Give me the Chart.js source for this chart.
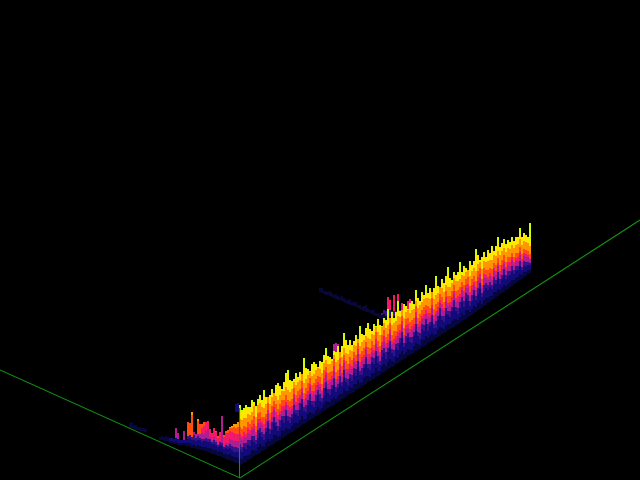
<!DOCTYPE html>
<html lang="en">
<head>
  <meta charset="UTF-8" />
  <title>Surface ridge</title>
  <script src="https://cdn.jsdelivr.net/npm/chart.js"></script>
  <style>
    html, body { margin: 0; padding: 0; background: #000; }
    canvas { display: block; }
  </style>
</head>
<body>
  <canvas id="chart" width="640" height="480"></canvas>
  <script>
    // long ridge: floor of each column and the top of every colour band above that floor
    const ridgeColumns = [
      240,242,244,246,248,
      250,252,254,256,258,260,262,264,266,268,
      270,272,274,276,278,280,282,284,286,288,
      290,292,294,296,298,300,302,304,306,308,
      310,312,314,316,318,320,322,324,326,328,
      330,332,334,336,338,340,342,344,346,348,
      350,352,354,356,358,360,362,364,366,368,
      370,372,374,376,378,380,382,384,386,388,
      390,392,394,396,398,400,402,404,406,408,
      410,412,414,416,418,420,422,424,426,428,
      430,432,434,436,438,440,442,444,446,448,
      450,452,454,456,458,460,462,464,466,468,
      470,472,474,476,478,480,482,484,486,488,
      490,492,494,496,498,500,502,504,506,508,
      510,512,514,516,518,520,522,524,526,528,530];
    const ridgeFloor = [
      15,16,17,18,20,
      21,22,24,25,26,27,29,30,31,33,
      34,35,36,38,39,40,42,43,44,46,
      47,48,49,51,52,53,55,56,57,59,
      60,61,62,64,65,66,68,69,70,72,
      73,74,75,77,78,79,81,82,83,85,
      86,87,88,90,91,92,94,95,96,98,
      99,100,101,103,104,105,107,108,109,111,
      112,113,114,116,117,118,120,121,122,124,
      125,126,127,129,130,131,133,134,135,137,
      138,139,140,142,143,144,146,147,148,150,
      151,152,153,155,156,157,159,160,161,163,
      164,165,167,168,170,171,172,174,175,177,
      178,180,181,183,184,186,187,188,190,191,
      193,194,196,197,199,200,201,203,204,206,207];
    const darkTop = [
      7,5,7,6,5,
      5,8,6,4,7,9,5,4,7,8,
      5,6,9,7,4,5,8,6,8,5,
      4,6,8,6,5,7,9,5,4,7,
      8,6,4,6,8,5,4,7,9,6,
      5,7,8,4,6,7,5,9,6,4,
      7,5,8,6,9,5,4,7,8,6,
      4,7,6,9,5,4,7,8,5,7,
      9,6,4,7,5,8,9,5,6,7,
      5,4,7,8,6,4,7,6,9,5,
      7,8,5,4,7,9,6,4,7,6,
      5,7,8,6,4,6,8,5,9,7,
      4,6,7,5,7,8,4,6,7,5,
      6,4,7,5,7,4,6,7,4,5,
      5,6,4,5,4,6,4,5,4,4,3];
    const navyTop = [
      15,12,16,13,15,
      13,18,14,11,16,20,14,10,17,19,
      12,15,21,16,10,13,18,14,20,13,
      10,14,19,15,12,17,21,13,11,16,
      19,14,11,15,20,13,10,16,22,15,
      12,17,20,11,14,18,13,21,15,10,
      16,12,19,14,22,13,11,17,20,14,
      11,18,15,21,13,10,16,19,12,17,
      21,14,10,16,13,19,22,12,15,18,
      13,11,17,20,14,10,18,15,21,12,
      16,19,12,10,17,21,14,11,18,15,
      12,17,20,14,10,15,19,13,21,16,
      10,14,18,12,16,20,11,15,17,13,
      15,11,16,13,18,10,14,17,11,13,
      12,15,10,13,11,14,9,12,10,9,8];
    const violetTop = [
      21,17,20,19,20,
      19,22,20,15,24,25,19,16,21,26,
      17,23,27,20,15,20,22,21,26,18,
      16,18,26,19,18,24,26,17,18,21,
      26,18,17,21,25,20,14,23,28,19,
      18,21,27,16,18,25,17,28,19,16,
      20,18,24,21,28,17,18,21,27,18,
      17,23,21,26,20,14,23,24,19,21,
      27,18,16,20,20,24,28,16,22,23,
      18,17,21,27,18,16,23,21,26,19,
      20,26,16,17,21,28,18,17,24,19,
      18,21,27,18,16,21,24,19,26,22,
      15,20,23,16,22,26,15,21,22,18,
      20,15,22,17,24,15,18,23,15,18,
      16,20,14,17,15,19,12,16,14,12,10];
    const magentaTop = [
      27,24,26,25,27,
      25,28,27,20,31,30,26,21,27,33,
      23,28,34,25,22,26,27,28,31,24,
      22,23,33,24,25,29,33,22,25,26,
      33,23,24,26,30,27,19,28,35,24,
      25,26,34,21,23,32,22,35,24,23,
      25,24,30,26,35,22,25,26,34,23,
      24,28,26,33,25,20,28,31,24,26,
      34,23,23,25,27,29,34,21,29,28,
      23,24,26,34,23,23,28,28,31,26,
      25,33,21,24,26,33,25,22,31,24,
      24,26,33,23,23,26,31,24,31,29,
      20,26,28,22,29,31,20,28,27,23,
      26,20,28,22,30,20,24,28,20,24,
      21,26,19,22,20,25,17,21,19,17,13];
    const pinkTop = [
      31,28,31,28,32,
      29,31,32,23,35,34,29,26,30,37,
      26,33,37,30,26,29,32,31,34,29,
      26,26,37,27,30,32,37,25,29,30,
      36,28,27,31,33,30,22,33,38,28,
      28,30,39,24,26,37,26,38,28,26,
      30,27,34,29,40,26,29,30,37,28,
      27,32,29,38,29,23,31,36,28,29,
      39,26,27,28,31,32,39,24,33,32,
      26,28,29,39,26,28,31,32,35,30,
      29,36,25,27,30,36,30,25,35,27,
      27,31,36,27,28,29,34,29,34,33,
      24,30,31,25,33,35,23,32,30,26,
      29,24,31,26,33,23,28,31,23,27,
      25,29,22,25,24,28,20,24,22,19,15];
    const redTop = [
      38,35,37,35,38,
      35,38,40,29,41,41,34,33,35,44,
      33,39,43,38,32,36,38,37,41,34,
      32,33,43,34,37,38,44,31,35,38,
      42,34,35,37,39,37,28,41,43,35,
      35,35,46,31,32,43,33,43,36,31,
      37,33,40,35,46,34,35,37,42,35,
      33,39,34,45,35,29,38,42,34,35,
      45,32,35,33,38,38,44,31,39,38,
      33,34,35,45,32,35,37,39,40,37,
      34,43,31,34,35,42,37,31,41,34,
      33,37,42,34,34,36,39,35,40,40,
      30,36,37,31,39,41,29,38,35,33,
      34,31,36,32,38,29,33,37,28,32,
      30,33,27,30,28,33,25,28,26,23,19];
    const orangeTop = [
      46,44,45,44,46,
      44,46,50,38,49,50,44,42,45,50,
      42,48,51,46,41,45,47,46,49,44,
      41,43,49,44,46,47,51,41,44,46,
      48,43,44,46,47,45,39,48,50,44,
      43,45,50,41,42,49,42,50,44,41,
      44,42,47,44,50,42,44,45,48,44,
      42,46,44,50,44,40,46,49,43,44,
      50,42,43,43,47,45,50,41,46,46,
      42,44,44,50,42,44,45,47,47,45,
      43,49,41,43,44,49,46,41,47,43,
      42,45,49,44,43,44,46,44,47,47,
      40,44,45,41,46,47,39,45,43,42,
      42,40,44,41,45,39,42,44,38,41,
      38,41,36,38,37,41,34,36,34,31,27];
    const yellowTop = [
      54,52,53,55,52,
      50,55,53,48,52,56,50,54,51,48,
      50,53,49,55,57,52,48,53,58,60,
      52,49,51,54,50,53,49,56,54,50,
      48,53,55,50,47,52,49,54,56,51,
      49,46,52,50,54,48,51,58,55,49,
      52,47,50,53,48,56,51,49,54,57,
      51,48,53,50,55,49,46,52,50,54,
      49,53,47,51,56,50,48,53,51,46,
      50,52,48,55,51,47,53,50,54,49,
      52,48,51,56,50,46,53,49,55,57,
      50,47,53,49,51,55,48,52,50,46,
      53,49,51,57,54,48,50,52,47,51,
      48,52,47,50,53,46,49,51,45,48,
      44,47,42,45,43,46,41,43,40,36,32];
    const limeTop = [
      60,54,55,57,53,
      52,58,54,49,55,58,51,60,52,50,
      51,56,50,57,58,54,49,55,63,64,
      53,51,52,56,51,55,50,66,55,52,
      49,55,56,52,48,53,50,56,62,52,
      50,47,54,51,56,49,53,65,57,50,
      54,48,51,55,49,62,52,50,56,59,
      52,49,55,51,57,50,47,54,51,60,
      50,55,48,52,62,51,49,55,52,47,
      52,53,49,61,52,48,55,51,60,50,
      54,49,52,62,51,47,55,50,56,63,
      51,48,55,50,52,61,49,54,51,47,
      55,50,52,63,55,49,51,54,48,53,
      49,54,48,51,59,47,50,53,46,49,
      45,49,43,46,44,52,42,44,41,37,50];

    // low part left of the corner: thickness of each colour band, stacked on the floor
    const nearColumns = [
      130,132,134,136,138,140,142,144,146,148,
      150,152,154,156,158,160,162,164,166,168,
      170,172,174,176,178,180,182,184,186,188,
      190,192,194,196,198,200,202,204,206,208,
      210,212,214,216,218,220,222,224,226,228,
      230,232,234,236,238];
    const nearFloor = [
      52,52,51,50,50,49,49,48,48,0,
      0,0,0,0,0,40,40,39,39,38,
      37,37,36,36,35,35,35,35,34,34,
      33,32,32,31,31,30,30,29,29,28,
      27,26,26,25,24,24,23,22,21,20,
      20,19,18,17,17];
    const nearDark = [
      5,6,4,5,3,4,3,4,3,0,
      0,0,0,0,0,3,4,4,5,5,
      2,2,2,3,2,2,2,2,3,3,
      4,3,4,3,4,4,3,4,4,4,
      5,5,4,5,4,5,5,4,5,5,
      6,5,5,6,5];
    const nearNavy = [
      0,0,0,0,0,0,0,0,0,0,
      0,0,0,0,0,0,0,0,0,0,
      3,3,3,3,4,3,3,3,3,4,
      5,5,4,5,5,6,5,6,6,6,
      6,5,6,5,5,6,6,5,6,6,
      6,6,5,5,6];
    const nearViolet = [
      0,0,0,0,0,0,0,0,0,0,
      0,0,0,0,0,0,0,0,0,0,
      0,0,0,0,0,0,0,0,0,3,
      3,3,5,3,4,2,3,2,3,3,
      3,2,4,3,2,3,3,2,3,3,
      4,4,5,5,4];
    const nearMagenta = [
      0,0,0,0,0,0,0,0,0,0,
      0,0,0,0,0,0,0,0,0,0,
      0,0,0,10,6,0,0,9,0,0,
      0,0,3,4,2,4,6,5,7,10,
      2,2,3,2,1,1,27,1,2,3,
      5,6,6,6,7];
    const nearPink = [
      0,0,0,0,0,0,0,0,0,0,
      0,0,0,0,0,0,0,0,0,0,
      0,0,0,0,0,0,0,0,0,0,
      0,0,0,0,0,0,5,8,9,8,
      8,7,9,8,6,9,0,9,10,10,
      8,8,8,7,7];
    const nearRed = [
      0,0,0,0,0,0,0,0,0,0,
      0,0,0,0,0,0,0,0,0,0,
      0,0,0,0,0,0,0,0,0,14,
      12,22,0,0,13,10,4,4,0,0,
      0,0,0,1,2,0,0,2,2,3,
      3,4,6,6,7];
    const nearOrange = [
      0,0,0,0,0,0,0,0,0,0,
      0,0,0,0,0,0,0,0,0,0,
      0,0,0,0,0,0,0,0,0,0,
      0,3,0,0,2,0,0,0,0,0,
      0,0,0,0,0,0,0,0,0,0,
      1,2,3,4,5];

    // faint ridge further back, partly hidden by the main one
    const backColumns = [
      320,322,324,326,328,330,332,334,336,338,
      340,342,344,346,348,350,352,354,356,358,
      360,362,364,366,368,370,372,374,376,378,
      380,382,384,386,388,390,392,394,396,398,
      400,402,404,406,408,410];
    const backFloor = [
      188,187,186,185,185,184,183,182,181,180,
      180,179,178,177,176,175,175,174,173,172,
      171,170,169,168,168,167,166,165,164,163,
      162,161,161,160,160,160,160,160,160,160,
      160,160,160,160,160,160];
    const backDark = [
      4,5,3,4,3,5,4,3,5,4,
      3,5,4,3,4,6,3,4,5,3,
      4,3,5,7,4,3,4,5,3,4,
      3,4,5,4,3,4,3,4,3,4,
      4,4,3,4,3,4];
    const backViolet = [
      0,0,0,0,0,0,0,0,0,0,
      0,0,0,0,0,0,0,0,0,0,
      0,0,0,0,0,0,0,0,0,0,
      0,2,4,5,6,6,6,5,6,7,
      6,5,6,5,6,5];
    const backPink = [
      0,0,0,0,0,0,0,0,0,0,
      0,0,0,0,0,0,0,0,0,0,
      0,0,0,0,0,0,0,0,0,0,
      0,0,0,0,14,10,0,16,0,15,
      0,8,0,4,10,12];

    // small lumps sticking out above the main ridge
    const spotColumns = [236, 238, 334, 336, 338];
    const spotFloor = [68, 68, 128, 128, 128];
    const spotNavy = [8, 9, 0, 0, 0];
    const spotMagenta = [0, 0, 8, 9, 8];

    // green base of the box
    const baseX = [0, 240, 640];
    const baseY = [110, 2, 260];
    const cornerX = [239.5, 239.5];
    const cornerY = [2, 72];

    const CLEAR = 'rgba(0,0,0,0)';
    const GREEN = '#129014';
    const FAINT = '#070738';
    const DARK = '#070740';
    const NAVY = '#120a78';
    const VIOLET = '#3a1288';
    const MAGENTA = '#b01c92';
    const PINK = '#f41868';
    const RED = '#ff4c10';
    const ORANGE = '#ff9600';
    const YELLOW = '#ffe800';
    const LIME = '#ccff00';

    const barStyle = {
      type: 'bar',
      grouped: false,
      barPercentage: 1,
      categoryPercentage: 1,
      inflateAmount: 0,
      borderWidth: 0
    };

    function pairs(xs, ys) {
      return xs.map((x, i) => ({ x: x, y: ys[i] }));
    }

    function band(xs, values, color, stack, order) {
      return { ...barStyle, data: pairs(xs, values), backgroundColor: color, stack: stack, order: order };
    }

    // floating bar between two band tops of the long ridge
    function ridgeBand(lower, upper, color) {
      const spans = ridgeFloor.map((f, i) => [f + (lower ? lower[i] : 0), f + upper[i]]);
      return { ...barStyle, data: pairs(ridgeColumns, spans), backgroundColor: color, order: 1 };
    }

    function line(xs, ys) {
      return {
        type: 'line',
        data: pairs(xs, ys),
        borderColor: GREEN,
        borderWidth: 1.1,
        pointRadius: 0,
        tension: 0,
        order: 0
      };
    }

    new Chart(document.getElementById('chart').getContext('2d'), {
      data: {
        datasets: [
          line(baseX, baseY),
          line(cornerX, cornerY),
          ridgeBand(null, darkTop, DARK),
          ridgeBand(darkTop, navyTop, NAVY),
          ridgeBand(navyTop, violetTop, VIOLET),
          ridgeBand(violetTop, magentaTop, MAGENTA),
          ridgeBand(magentaTop, pinkTop, PINK),
          ridgeBand(pinkTop, redTop, RED),
          ridgeBand(redTop, orangeTop, ORANGE),
          ridgeBand(orangeTop, yellowTop, YELLOW),
          ridgeBand(yellowTop, limeTop, LIME),
          band(nearColumns, nearFloor, CLEAR, 'near', 1),
          band(nearColumns, nearDark, DARK, 'near', 1),
          band(nearColumns, nearNavy, NAVY, 'near', 1),
          band(nearColumns, nearViolet, VIOLET, 'near', 1),
          band(nearColumns, nearMagenta, MAGENTA, 'near', 1),
          band(nearColumns, nearPink, PINK, 'near', 1),
          band(nearColumns, nearRed, RED, 'near', 1),
          band(nearColumns, nearOrange, ORANGE, 'near', 1),
          band(spotColumns, spotFloor, CLEAR, 'spot', 2),
          band(spotColumns, spotNavy, NAVY, 'spot', 2),
          band(spotColumns, spotMagenta, MAGENTA, 'spot', 2),
          band(backColumns, backFloor, CLEAR, 'back', 3),
          band(backColumns, backDark, FAINT, 'back', 3),
          band(backColumns, backViolet, VIOLET, 'back', 3),
          band(backColumns, backPink, PINK, 'back', 3)
        ]
      },
      options: {
        responsive: false,
        animation: false,
        layout: { padding: 0 },
        plugins: { legend: { display: false }, tooltip: { enabled: false } },
        scales: {
          x: { type: 'linear', display: false, min: 0, max: 640, offset: false },
          y: { type: 'linear', display: false, min: 0, max: 480 }
        }
      }
    });
  </script>
</body>
</html>
